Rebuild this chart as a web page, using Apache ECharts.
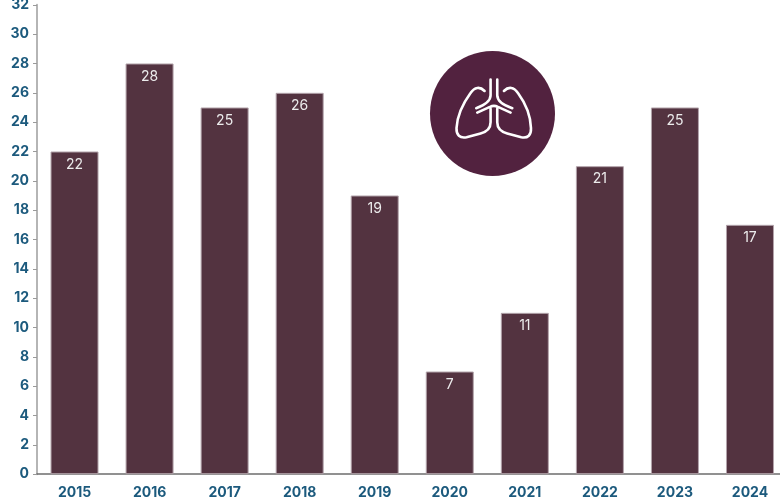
<!DOCTYPE html>
<html><head><meta charset="utf-8">
<style>html,body{margin:0;padding:0;background:#fff}#c{width:780px;height:500px}</style>
<script src="https://cdn.jsdelivr.net/npm/echarts@6/dist/echarts.min.js"></script>
</head><body><div id="c"></div>
<script>
const categories = ['2015','2016','2017','2018','2019','2020','2021','2022','2023','2024'];
const values = [22,28,25,26,19,7,11,21,25,17];
const chart = echarts.init(document.getElementById('c'), null, {renderer:'canvas'});
const font = 'Inter';
const lungs = 'M192 152 C178 138 162 140 150 158 C130 185 110 225 108 262 C107 282 118 293 138 289 L180 278 C200 273 210 262 210 245 L210 205 '
 + 'M250 152 C264 138 280 140 292 158 C312 185 330 225 331 262 C332 282 322 293 302 289 L260 278 C240 273 230 262 230 245 L230 205 '
 + 'M210 118 L210 165 C210 185 190 195 167 203 '
 + 'M230 118 L230 165 C230 185 250 195 275 203 '
 + 'M170 216 L208 199 C216 195 224 195 232 199 L270 216';
chart.setOption({
  animation:false,
  grid:{left:37,top:4.8,width:750.5,height:469.4,containLabel:false,outerBoundsMode:'none'},
  xAxis:{type:'category',data:categories,
    axisLine:{lineStyle:{color:'#6e6e6e',width:1.5}},
    axisTick:{alignWithLabel:true,length:5,lineStyle:{color:'#b5b5b5',width:2}},
    axisLabel:{fontFamily:font,fontSize:14,fontWeight:700,color:'#1c5a7d',margin:12}},
  yAxis:{type:'value',min:0,max:32,interval:2,
    splitLine:{show:false},
    axisLine:{show:true,lineStyle:{color:'#b5b5b5',width:2}},
    axisTick:{show:true,length:4,lineStyle:{color:'#9a9a9a',width:1}},
    axisLabel:{fontFamily:font,fontSize:14,fontWeight:700,color:'#1c5a7d',margin:8,padding:[4,0,0,0]}},
  series:[
   {type:'bar',data:values,barWidth:48,
    itemStyle:{color:'#533340',borderColor:'#b3a4ab',borderWidth:1},
    label:{show:true,position:'insideTop',distance:6,fontFamily:font,fontSize:14,color:'#ececec'}},
   {type:'custom',z:10,silent:true,clip:false,data:[0],
    renderItem:function(){
      return {type:'group',children:[
        {type:'circle',shape:{cx:492.5,cy:113.5,r:62.5},style:{fill:'#52223f'}},
        {type:'path',shape:{pathData:lungs,x:456.5,y:79.5,width:74.5,height:58,layout:'cover'},
         style:{fill:'none',stroke:'#ffffff',lineWidth:2.6,lineCap:'round',lineJoin:'round'}}
      ]};
    }}
  ]
});
</script></body></html>
